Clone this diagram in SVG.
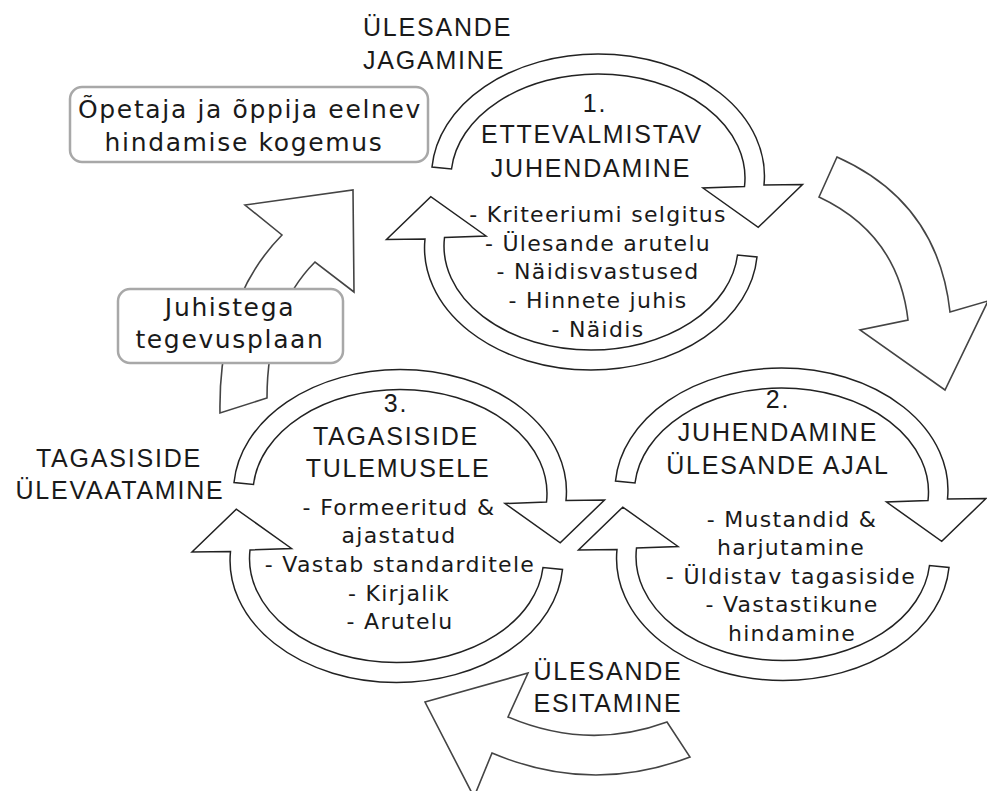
<svg xmlns="http://www.w3.org/2000/svg" xmlns:xlink="http://www.w3.org/1999/xlink" width="987" height="791" viewBox="0 0 987 791">
<style>
.h{font-family:"Liberation Sans","DejaVu Sans",sans-serif;font-size:25px;letter-spacing:1.8px;fill:#1a1a1a;text-anchor:middle}
.b{font-family:"DejaVu Sans","Liberation Sans",sans-serif;font-size:22px;letter-spacing:1.3px;fill:#1a1a1a;text-anchor:middle}
.bx{font-family:"DejaVu Sans","Liberation Sans",sans-serif;font-size:25px;letter-spacing:1.65px;fill:#1a1a1a;text-anchor:middle}
.ca{fill:#fff;stroke:#222;stroke-width:1.5;stroke-linejoin:miter}
.big{fill:#fff;stroke:#444;stroke-width:1.6;stroke-linejoin:miter}
.box{fill:#fff;stroke:#a8a8a8;stroke-width:2.5}
</style>
<defs>
<path id="carrow" d="M -162.5,-45 A 166.5 122 0 0 1 3.5,-158 A 166.5 122 0 0 1 169.5,-27 L 208,-27.5 L 163.7,15.4 L 108.5,-24 L 150,-25.5 A 147 104 0 0 0 3.5,-138 A 147 104 0 0 0 -143,-43 Z"/>
</defs>
<rect width="987" height="791" fill="#fff"/>
<g id="connectors">
<path class="big" d="M 837,157 Q 938,202 950,312 L 988,301 L 945,390 L 860,330 L 908,320 Q 898,234 819,197 Z"/>
<path class="big" d="M 667,722 Q 588,751 508,717 L 528,673 L 425,702 L 474,797 L 492,753 Q 591,795 690,757 Z"/>
<path class="big" d="M 220,413 Q 218,300 282,235 L 245,205 L 353,190 L 354,292 L 315,262 Q 267,310 267,398 Z"/>
</g>
<g id="label-jagamine">
<text class="h" style="text-anchor:start" x="363" y="36">ÜLESANDE</text>
<text class="h" style="text-anchor:start" x="363" y="69">JAGAMINE</text>
</g>
<g id="label-ylevaatamine">
<text class="h" x="119" y="467">TAGASISIDE</text>
<text class="h" x="120" y="499">ÜLEVAATAMINE</text>
</g>
<g id="label-esitamine">
<text class="h" x="608" y="680">ÜLESANDE</text>
<text class="h" x="608" y="712">ESITAMINE</text>
</g>
<g id="box-opetaja">
<rect class="box" x="70" y="87" width="358" height="75" rx="12"/>
<text class="bx" x="250" y="118">Õpetaja ja õppija eelnev</text>
<text class="bx" x="244" y="151">hindamise kogemus</text>
</g>
<g id="box-juhistega">
<rect class="box" x="118" y="289" width="225" height="74" rx="12"/>
<text class="bx" x="230" y="316">Juhistega</text>
<text class="bx" x="230" y="348">tegevusplaan</text>
</g>
<g id="step1">
<use xlink:href="#carrow" class="ca" transform="translate(594.5,212)"/>
<use xlink:href="#carrow" class="ca" transform="translate(594.5,212) rotate(180)"/>
<text class="h" x="595" y="112">1.</text>
<text class="h" x="592" y="143">ETTEVALMISTAV</text>
<text class="h" x="591" y="177">JUHENDAMINE</text>
<text class="b" x="598" y="222">- Kriteeriumi selgitus</text>
<text class="b" x="598" y="251">- Ülesande arutelu</text>
<text class="b" x="598" y="279">- Näidisvastused</text>
<text class="b" x="598" y="308">- Hinnete juhis</text>
<text class="b" x="598" y="337">- Näidis</text>
</g>
<g id="step2">
<use xlink:href="#carrow" class="ca" transform="translate(778,526)"/>
<use xlink:href="#carrow" class="ca" transform="translate(786.5,522.5) rotate(180)"/>
<text class="h" x="778" y="408">2.</text>
<text class="h" x="778" y="441">JUHENDAMINE</text>
<text class="h" x="778" y="474">ÜLESANDE AJAL</text>
<text class="b" x="792" y="527">- Mustandid &amp;</text>
<text class="b" x="791" y="555">harjutamine</text>
<text class="b" x="791" y="584">- Üldistav tagasiside</text>
<text class="b" x="792" y="612">- Vastastikune</text>
<text class="b" x="792" y="641">hindamine</text>
</g>
<g id="step3">
<use xlink:href="#carrow" class="ca" transform="translate(396.5,527.5)"/>
<use xlink:href="#carrow" class="ca" transform="translate(400,524.5) rotate(180)"/>
<text class="h" x="396" y="412">3.</text>
<text class="h" x="396" y="445">TAGASISIDE</text>
<text class="h" x="398" y="477">TULEMUSELE</text>
<text class="b" x="399" y="515">- Formeeritud &amp;</text>
<text class="b" x="399" y="543">ajastatud</text>
<text class="b" x="400" y="572">- Vastab standarditele</text>
<text class="b" x="399" y="601">- Kirjalik</text>
<text class="b" x="400" y="629">- Arutelu</text>
</g>
</svg>
